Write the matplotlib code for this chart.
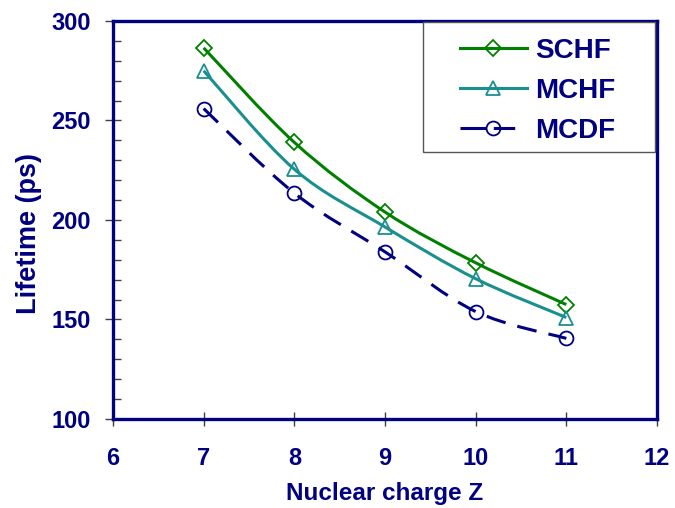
import numpy as np
import matplotlib.pyplot as plt
from matplotlib.path import Path
from matplotlib.patches import PathPatch, Rectangle
from matplotlib.lines import Line2D
from matplotlib.ticker import MultipleLocator

## Données
Z = [7, 8, 9, 10, 11]
schf = [286.5, 239.0, 204.0, 178.5, 157.5]
mchf = [275.0, 225.5, 196.5, 170.5, 151.0]
mcdf = [256.0, 213.5, 184.0, 154.0, 140.5]
labels = ["SCHF", "MCHF", "MCDF"]

navy = "#000080"
green = "#008000"
teal = "#1a8f8f"

plt.rcParams['font.family'] = ['Liberation Sans', 'DejaVu Sans']
plt.rcParams['font.weight'] = 'bold'


def smooth_path(x, y):
    """Courbe lissée façon Excel (Catmull-Rom -> Bézier cubique)."""
    pts = np.column_stack([x, y]).astype(float)
    n = len(pts)
    verts = [pts[0]]
    codes = [Path.MOVETO]
    for i in range(n - 1):
        p0 = pts[max(i - 1, 0)]
        p1 = pts[i]
        p2 = pts[i + 1]
        p3 = pts[min(i + 2, n - 1)]
        c1 = p1 + (p2 - p0) / 6
        c2 = p2 - (p3 - p1) / 6
        verts += [c1, c2, p2]
        codes += [Path.CURVE4] * 3
    return Path(verts, codes)


W, H = 675, 508
fig = plt.figure(figsize=(6.75, 5.08), dpi=100)
ax = fig.add_axes([113 / W, 1 - 419 / H, (657 - 113) / W, (419 - 21) / H])

dash = (0, (6.5, 4))
series = [
    (schf, green, "D", "-", "-", 8),
    (mchf, teal, "^", "-", "-", 10),
    (mcdf, navy, "o", dash, (0, (8.5, 2.4, 7.0, 10)), 10),
]
handles = []
for vals, col, mk, ls, ls_leg, ms in series:
    patch = PathPatch(smooth_path(Z, vals), facecolor="none", edgecolor=col,
                      lw=2.2, linestyle=ls, capstyle="butt")
    ax.add_patch(patch)
    ax.plot(Z, vals, linestyle="none", marker=mk, markersize=ms, mfc="none",
            mec=col, mew=1.3, zorder=3)
    handles.append(Line2D([], [], color=col, lw=2.2, marker=mk, markersize=ms,
                          mfc="none", mec=col, mew=1.3, linestyle=ls_leg,
                          dash_capstyle="butt"))

ax.set_xlim(6, 12)
ax.set_ylim(100, 300)
ax.xaxis.set_major_locator(MultipleLocator(1))
ax.yaxis.set_major_locator(MultipleLocator(50))
ax.yaxis.set_minor_locator(MultipleLocator(10))

for s in ax.spines.values():
    s.set_color(navy)
    s.set_linewidth(2.4)

ax.tick_params(axis="x", which="major", direction="inout", length=10, width=1,
               color="#404040", labelsize=17, labelcolor=navy, pad=15)
ax.tick_params(axis="y", which="major", direction="inout", length=12, width=1,
               color="#404040", labelsize=17, labelcolor=navy, pad=10)
ax.tick_params(axis="y", which="minor", direction="in", length=6, width=1,
               color="#404040")

ax.set_xlabel("Nuclear charge Z", fontsize=17.5, fontweight="bold", color=navy,
              labelpad=9)
ax.set_ylabel("Lifetime (ps)", fontsize=19.5, fontweight="bold", color=navy)
ax.yaxis.set_label_coords(-0.13, 0.467)

# cadre de la légende
box = Rectangle((423 / W, 1 - 152 / H), (655 - 423) / W, (152 - 22) / H,
                transform=fig.transFigure, facecolor="white",
                edgecolor="#555555", lw=1.0, zorder=4, clip_on=False)
ax.add_patch(box)

leg = ax.legend(handles, labels, loc="upper left",
                bbox_to_anchor=(460 / W, 1 - 38 / H),
                bbox_transform=fig.transFigure, borderaxespad=0.0,
                borderpad=0.0, frameon=False, handlelength=2.4,
                handletextpad=0.3, labelspacing=0.5,
                prop={"size": 20, "weight": "bold"})
leg.set_zorder(5)
for t in leg.get_texts():
    t.set_color(navy)

fig.savefig("out.png", dpi=100)
